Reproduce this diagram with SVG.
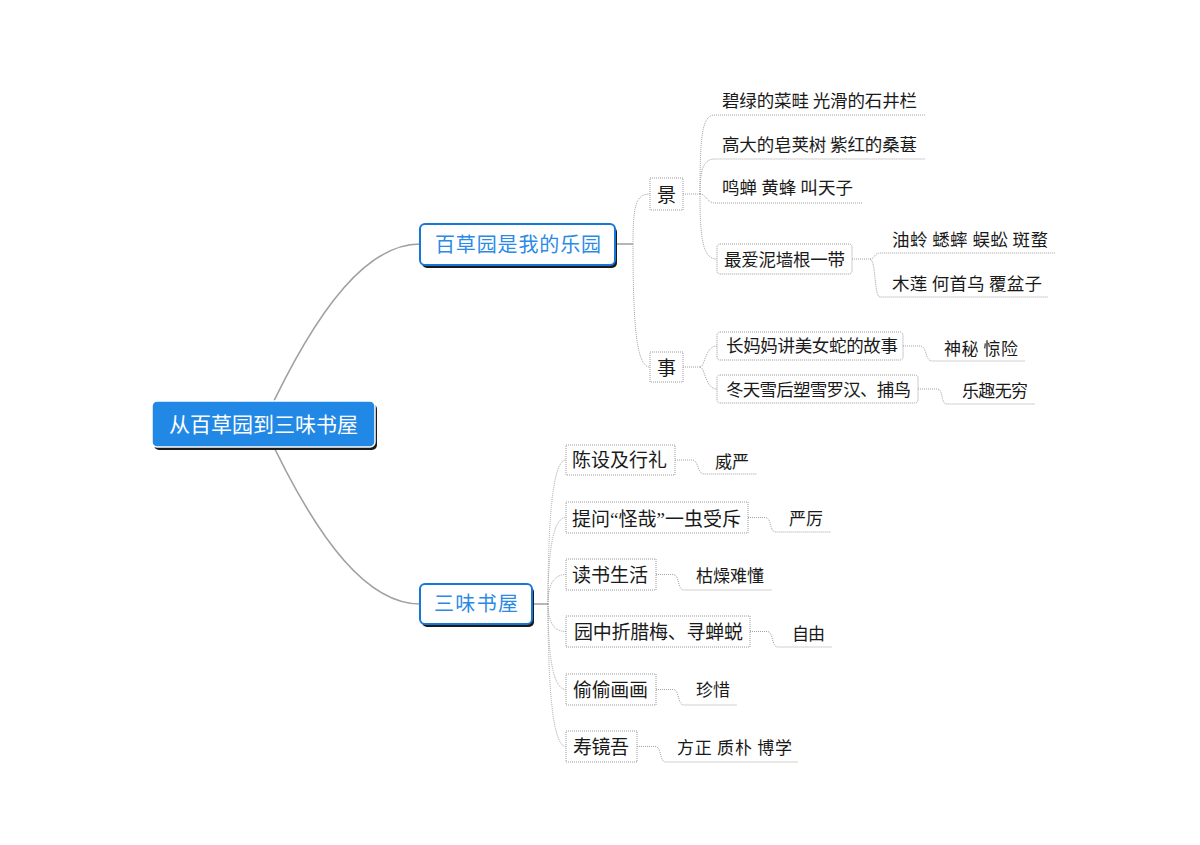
<svg xmlns="http://www.w3.org/2000/svg" width="1200" height="845" viewBox="0 0 1200 845">
<style>
text{font-family:"Noto Sans CJK SC","Noto Sans",sans-serif;fill:#1a1a1a}
.root{font-size:21px;fill:#ffffff}
.main{font-size:20px;fill:#2a8ae6}
.sub{font-size:19px}
.s2{font-size:17.5px}
.leaf{font-size:17px}
.q{font-family:"Liberation Serif",serif}
.box{fill:#ffffff;stroke:#9a9a9a;stroke-width:1;stroke-dasharray:1 1}
.shadow{fill:#1a1a1a}
.mbox{fill:#ffffff;stroke:#1677d9;stroke-width:2}
.trunk{fill:none;stroke:#a0a0a0;stroke-width:1.6}
.stem{fill:none;stroke:#999999;stroke-width:1.4}
.link{fill:none;stroke:#a3a3a3;stroke-width:1;stroke-dasharray:1 1}
</style>
<rect width="1200" height="845" fill="#ffffff"/>
<g id="connectors">
<path class="trunk" d="M263,424 C320,300 370,244 420,244"/>
<path class="trunk" d="M263,424 C320,548 370,604 420,604"/>
<path class="stem" d="M615,244 H633"/>
<path class="link" d="M633,244 C633,205 636,194 650,194"/>
<path class="link" d="M633,244 C633,330 637,367 650,367"/>
<path class="link" d="M683,194 H700"/>
<path class="link" d="M700,194 C700,135 702,115 715,115 H925"/>
<path class="link" d="M700,194 C700,170 703,159 715,159 H925"/>
<path class="link" d="M700,194 C706,194 707,203 715,203 H862"/>
<path class="link" d="M700,194 C700,240 703,259 717,259"/>
<path class="link" d="M852,259 H870 C875,259 874,253 880,253 H1055"/>
<path class="link" d="M870,259 C876,259 874,297 880,297 H1048"/>
<path class="link" d="M683,367 H700"/>
<path class="link" d="M700,367 C705,367 705,346 717,346"/>
<path class="link" d="M700,367 C705,367 705,389 717,389"/>
<path class="link" d="M903,346 H920 C927,346 925,361 932,361 H1025"/>
<path class="link" d="M918,389 H937 C944,389 940,404 947,404 H1035"/>
<path class="stem" d="M532,604 H548"/>
<path class="link" d="M548,604 Q548,460 566,460"/>
<path class="link" d="M548,604 Q548,517.5 566,517.5"/>
<path class="link" d="M548,604 Q548,574.5 566,574.5"/>
<path class="link" d="M548,604 Q548,631.5 566,631.5"/>
<path class="link" d="M548,604 Q548,689.5 566,689.5"/>
<path class="link" d="M548,604 Q548,746.5 566,746.5"/>
<path class="link" d="M675,460 H692 C699,460 697,474 704,474 H757"/>
<path class="link" d="M748,517.5 H765 C772,517.5 769,532 776,532 H831"/>
<path class="link" d="M656,574.5 H673 C680,574.5 677,590 684,590 H772"/>
<path class="link" d="M750,631.5 H767 C774,631.5 771,647 778,647 H832"/>
<path class="link" d="M656,689.5 H673 C680,689.5 677,705 684,705 H737"/>
<path class="link" d="M637,746.5 H655 C662,746.5 659,762 666,762 H798"/>
</g>
<g id="root">
<rect class="shadow" x="154" y="404" width="223" height="46" rx="5"/>
<rect x="152" y="401" width="223" height="46" rx="5" fill="#2189e5" stroke="#ffffff" stroke-width="1.5"/>
<text class="root" x="169" y="431.8" textLength="189" lengthAdjust="spacing">从百草园到三味书屋</text>
</g>
<g id="n-baicaoyuan">
<rect class="shadow" x="422" y="227" width="195" height="41" rx="5"/>
<rect class="mbox" x="420" y="224" width="195" height="41" rx="5"/>
<text class="main" x="435" y="252" textLength="166" lengthAdjust="spacing">百草园是我的乐园</text>
</g>
<g id="n-sanwei">
<rect class="shadow" x="422" y="587" width="112" height="40" rx="5"/>
<rect class="mbox" x="420" y="584" width="112" height="40" rx="5"/>
<text class="main" x="434" y="611.4" textLength="84" lengthAdjust="spacing">三味书屋</text>
</g>
<g id="n-jing">
<rect class="box" x="650" y="178" width="33" height="32"/>
<text class="sub" x="666.5" y="202" text-anchor="middle">景</text>
</g>
<g id="n-shi">
<rect class="box" x="650" y="352" width="33" height="30"/>
<text class="sub" x="666.5" y="374.5" text-anchor="middle">事</text>
</g>
<g id="l-bilv"><text class="s2" x="722" y="106.5" textLength="195" lengthAdjust="spacing">碧绿的菜畦 光滑的石井栏</text></g>
<g id="l-gaoda"><text class="s2" x="722" y="151" textLength="195" lengthAdjust="spacing">高大的皂荚树 紫红的桑葚</text></g>
<g id="l-mingchan"><text class="s2" x="722" y="194" textLength="131" lengthAdjust="spacing">鸣蝉 黄蜂 叫天子</text></g>
<g id="n-niqiang">
<rect class="box" x="717" y="244" width="135" height="30" rx="3"/>
<text class="s2" x="724" y="266" textLength="121" lengthAdjust="spacing">最爱泥墙根一带</text>
</g>
<g id="l-youling"><text class="s2" x="892" y="246" textLength="156" lengthAdjust="spacing">油蛉 蟋蟀 蜈蚣 斑蝥</text></g>
<g id="l-mulian"><text class="s2" x="892" y="289.7" textLength="150" lengthAdjust="spacing">木莲 何首乌 覆盆子</text></g>
<g id="n-changmama">
<rect class="box" x="717" y="332" width="186" height="28" rx="3"/>
<text class="s2" x="726" y="352" textLength="172" lengthAdjust="spacing">长妈妈讲美女蛇的故事</text>
</g>
<g id="l-shenmi"><text class="leaf" x="944" y="355" textLength="74" lengthAdjust="spacing">神秘 惊险</text></g>
<g id="n-dongtian">
<rect class="box" x="717" y="375" width="201" height="28" rx="3"/>
<text class="s2" x="726" y="396" textLength="185" lengthAdjust="spacing">冬天雪后塑雪罗汉、捕鸟</text>
</g>
<g id="l-lequ"><text class="leaf" x="962" y="397" textLength="66" lengthAdjust="spacing">乐趣无穷</text></g>
<g id="n-chenshe">
<rect class="box" x="566" y="445" width="109" height="30"/>
<text class="sub" x="572" y="467" textLength="95" lengthAdjust="spacing">陈设及行礼</text>
</g>
<g id="l-weiyan"><text class="leaf" x="715" y="467.5" textLength="34" lengthAdjust="spacing">威严</text></g>
<g id="n-tiwen">
<rect class="box" x="566" y="502" width="182" height="31"/>
<text class="sub" x="572" y="525.5" textLength="169" lengthAdjust="spacing">提问<tspan class="q">“</tspan>怪哉<tspan class="q">”</tspan>一虫受斥</text>
</g>
<g id="l-yanli"><text class="leaf" x="789" y="525" textLength="34" lengthAdjust="spacing">严厉</text></g>
<g id="n-dushu">
<rect class="box" x="566" y="559" width="90" height="31"/>
<text class="sub" x="572" y="582" textLength="76" lengthAdjust="spacing">读书生活</text>
</g>
<g id="l-kuzao"><text class="leaf" x="696" y="581.5" textLength="68" lengthAdjust="spacing">枯燥难懂</text></g>
<g id="n-yuanzhong">
<rect class="box" x="566" y="616" width="184" height="31"/>
<text class="sub" x="574" y="639" textLength="169" lengthAdjust="spacing">园中折腊梅、寻蝉蜕</text>
</g>
<g id="l-ziyou"><text class="leaf" x="792" y="640" textLength="33" lengthAdjust="spacing">自由</text></g>
<g id="n-toutou">
<rect class="box" x="566" y="674" width="90" height="31"/>
<text class="sub" x="573" y="697" textLength="75" lengthAdjust="spacing">偷偷画画</text>
</g>
<g id="l-zhenxi"><text class="leaf" x="696" y="696" textLength="34" lengthAdjust="spacing">珍惜</text></g>
<g id="n-shoujingwu">
<rect class="box" x="566" y="731" width="71" height="31"/>
<text class="sub" x="573" y="754" textLength="56" lengthAdjust="spacing">寿镜吾</text>
</g>
<g id="l-fangzheng"><text class="leaf" x="677" y="754" textLength="115" lengthAdjust="spacing">方正 质朴 博学</text></g>
</svg>
